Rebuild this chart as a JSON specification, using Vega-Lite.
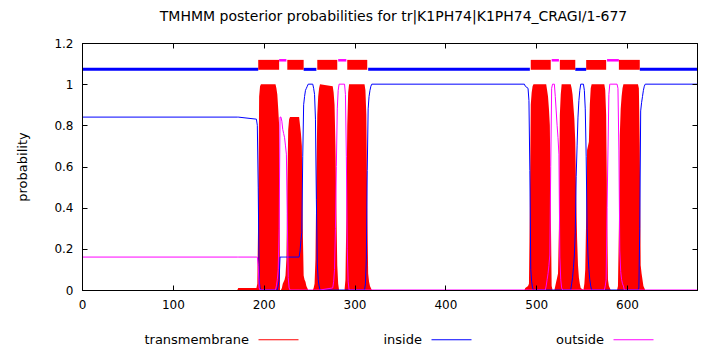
{
  "$schema": "https://vega.github.io/schema/vega-lite/v6.json",
  "width": 615,
  "height": 247,
  "autosize": "none",
  "padding": {"left": 82, "top": 43, "right": 13, "bottom": 60},
  "background": "white",
  "title": {"text": "TMHMM posterior probabilities for tr|K1PH74|K1PH74_CRAGI/1-677", "font": "DejaVu Sans", "fontSize": 14, "fontWeight": "normal", "color": "black", "offset": 13, "anchor": "middle", "dx": 4},
  "config": {"view": {"stroke": "black", "strokeWidth": 1}},
  "datasets": {
    "curve": [
      {"pos":1,"transmembrane":0,"inside":0.84,"outside":0.16},
      {"pos":171,"transmembrane":0,"inside":0.84,"outside":0.16},
      {"pos":172,"transmembrane":0.01,"inside":0.84,"outside":0.16},
      {"pos":192,"transmembrane":0.01,"inside":0.83,"outside":0.16},
      {"pos":193,"transmembrane":0.03,"inside":0.8,"outside":0.16},
      {"pos":194,"transmembrane":0.37,"inside":0.5,"outside":0.12},
      {"pos":195,"transmembrane":0.94,"inside":0.05,"outside":0.01},
      {"pos":196,"transmembrane":0.99,"inside":0.01,"outside":0},
      {"pos":197,"transmembrane":1,"inside":0,"outside":0},
      {"pos":213,"transmembrane":1,"inside":0,"outside":0},
      {"pos":214,"transmembrane":0.98,"inside":0,"outside":0.02},
      {"pos":215,"transmembrane":0.95,"inside":0,"outside":0.05},
      {"pos":216,"transmembrane":0.88,"inside":0.02,"outside":0.1},
      {"pos":217,"transmembrane":0.8,"inside":0.05,"outside":0.3},
      {"pos":218,"transmembrane":0,"inside":0.16,"outside":0.84},
      {"pos":219,"transmembrane":0,"inside":0.16,"outside":0.84},
      {"pos":220,"transmembrane":0.01,"inside":0.16,"outside":0.82},
      {"pos":221,"transmembrane":0.03,"inside":0.16,"outside":0.78},
      {"pos":222,"transmembrane":0.04,"inside":0.16,"outside":0.76},
      {"pos":223,"transmembrane":0.05,"inside":0.16,"outside":0.74},
      {"pos":224,"transmembrane":0.07,"inside":0.16,"outside":0.7},
      {"pos":225,"transmembrane":0.15,"inside":0.16,"outside":0.66},
      {"pos":226,"transmembrane":0.5,"inside":0.16,"outside":0.34},
      {"pos":227,"transmembrane":0.78,"inside":0.16,"outside":0.06},
      {"pos":228,"transmembrane":0.83,"inside":0.16,"outside":0.01},
      {"pos":229,"transmembrane":0.84,"inside":0.16,"outside":0},
      {"pos":239,"transmembrane":0.84,"inside":0.16,"outside":0},
      {"pos":240,"transmembrane":0.8,"inside":0.19,"outside":0},
      {"pos":241,"transmembrane":0.76,"inside":0.24,"outside":0},
      {"pos":242,"transmembrane":0.7,"inside":0.28,"outside":0},
      {"pos":243,"transmembrane":0.3,"inside":0.65,"outside":0},
      {"pos":244,"transmembrane":0.07,"inside":0.9,"outside":0},
      {"pos":245,"transmembrane":0.05,"inside":0.94,"outside":0},
      {"pos":246,"transmembrane":0.04,"inside":0.97,"outside":0},
      {"pos":247,"transmembrane":0.02,"inside":0.98,"outside":0},
      {"pos":248,"transmembrane":0.01,"inside":0.99,"outside":0},
      {"pos":249,"transmembrane":0,"inside":1,"outside":0},
      {"pos":254,"transmembrane":0,"inside":1,"outside":0},
      {"pos":255,"transmembrane":0.01,"inside":0.98,"outside":0},
      {"pos":256,"transmembrane":0.03,"inside":0.95,"outside":0},
      {"pos":257,"transmembrane":0.15,"inside":0.83,"outside":0},
      {"pos":258,"transmembrane":0.55,"inside":0.44,"outside":0},
      {"pos":259,"transmembrane":0.85,"inside":0.13,"outside":0},
      {"pos":260,"transmembrane":0.94,"inside":0.05,"outside":0},
      {"pos":261,"transmembrane":0.98,"inside":0.02,"outside":0},
      {"pos":262,"transmembrane":1,"inside":0,"outside":0},
      {"pos":276,"transmembrane":0.99,"inside":0,"outside":0.01},
      {"pos":277,"transmembrane":0.96,"inside":0,"outside":0.04},
      {"pos":278,"transmembrane":0.9,"inside":0,"outside":0.1},
      {"pos":279,"transmembrane":0.7,"inside":0,"outside":0.3},
      {"pos":280,"transmembrane":0.4,"inside":0,"outside":0.6},
      {"pos":281,"transmembrane":0.12,"inside":0,"outside":0.88},
      {"pos":282,"transmembrane":0.03,"inside":0,"outside":0.97},
      {"pos":283,"transmembrane":0,"inside":0,"outside":1},
      {"pos":289,"transmembrane":0,"inside":0,"outside":1},
      {"pos":290,"transmembrane":0.05,"inside":0,"outside":0.95},
      {"pos":291,"transmembrane":0.35,"inside":0,"outside":0.65},
      {"pos":292,"transmembrane":0.8,"inside":0,"outside":0.2},
      {"pos":293,"transmembrane":0.96,"inside":0,"outside":0.04},
      {"pos":294,"transmembrane":1,"inside":0,"outside":0},
      {"pos":311,"transmembrane":1,"inside":0,"outside":0},
      {"pos":312,"transmembrane":0.97,"inside":0.03,"outside":0},
      {"pos":313,"transmembrane":0.85,"inside":0.15,"outside":0},
      {"pos":314,"transmembrane":0.4,"inside":0.58,"outside":0},
      {"pos":315,"transmembrane":0.08,"inside":0.88,"outside":0},
      {"pos":316,"transmembrane":0.04,"inside":0.94,"outside":0},
      {"pos":317,"transmembrane":0.02,"inside":0.97,"outside":0},
      {"pos":318,"transmembrane":0.01,"inside":0.99,"outside":0},
      {"pos":319,"transmembrane":0,"inside":1,"outside":0},
      {"pos":487,"transmembrane":0,"inside":1,"outside":0},
      {"pos":488,"transmembrane":0.01,"inside":0.99,"outside":0},
      {"pos":491,"transmembrane":0.02,"inside":0.98,"outside":0},
      {"pos":492,"transmembrane":0.03,"inside":0.92,"outside":0},
      {"pos":493,"transmembrane":0.4,"inside":0.58,"outside":0},
      {"pos":494,"transmembrane":0.9,"inside":0.1,"outside":0},
      {"pos":495,"transmembrane":0.96,"inside":0.04,"outside":0},
      {"pos":496,"transmembrane":0.99,"inside":0.01,"outside":0},
      {"pos":497,"transmembrane":1,"inside":0,"outside":0},
      {"pos":510,"transmembrane":1,"inside":0,"outside":0},
      {"pos":511,"transmembrane":1,"inside":0,"outside":0.02},
      {"pos":512,"transmembrane":0.97,"inside":0,"outside":0.05},
      {"pos":513,"transmembrane":0.94,"inside":0,"outside":0.08},
      {"pos":514,"transmembrane":0.88,"inside":0,"outside":0.12},
      {"pos":515,"transmembrane":0.8,"inside":0,"outside":0.17},
      {"pos":516,"transmembrane":0.4,"inside":0,"outside":0.6},
      {"pos":517,"transmembrane":0.02,"inside":0,"outside":0.98},
      {"pos":518,"transmembrane":0,"inside":0,"outside":1},
      {"pos":520,"transmembrane":0,"inside":0,"outside":1},
      {"pos":521,"transmembrane":0.02,"inside":0,"outside":0.94},
      {"pos":522,"transmembrane":0.04,"inside":0,"outside":0.87},
      {"pos":523,"transmembrane":0.06,"inside":0,"outside":0.8},
      {"pos":524,"transmembrane":0.08,"inside":0,"outside":0.74},
      {"pos":525,"transmembrane":0.3,"inside":0,"outside":0.66},
      {"pos":526,"transmembrane":0.85,"inside":0,"outside":0.16},
      {"pos":527,"transmembrane":0.95,"inside":0,"outside":0.05},
      {"pos":528,"transmembrane":1,"inside":0,"outside":0.01},
      {"pos":529,"transmembrane":1,"inside":0,"outside":0},
      {"pos":538,"transmembrane":1,"inside":0,"outside":0},
      {"pos":539,"transmembrane":0.98,"inside":0.03,"outside":0},
      {"pos":540,"transmembrane":0.95,"inside":0.06,"outside":0},
      {"pos":541,"transmembrane":0.89,"inside":0.11,"outside":0},
      {"pos":542,"transmembrane":0.83,"inside":0.17,"outside":0},
      {"pos":543,"transmembrane":0.72,"inside":0.28,"outside":0},
      {"pos":544,"transmembrane":0.45,"inside":0.55,"outside":0},
      {"pos":545,"transmembrane":0.25,"inside":0.7,"outside":0},
      {"pos":546,"transmembrane":0.12,"inside":0.84,"outside":0},
      {"pos":547,"transmembrane":0.06,"inside":0.92,"outside":0},
      {"pos":548,"transmembrane":0.03,"inside":0.97,"outside":0},
      {"pos":549,"transmembrane":0.01,"inside":1,"outside":0},
      {"pos":552,"transmembrane":0,"inside":1,"outside":0},
      {"pos":553,"transmembrane":0.03,"inside":0.97,"outside":0},
      {"pos":554,"transmembrane":0.1,"inside":0.88,"outside":0},
      {"pos":555,"transmembrane":0.35,"inside":0.65,"outside":0},
      {"pos":556,"transmembrane":0.68,"inside":0.3,"outside":0},
      {"pos":557,"transmembrane":0.7,"inside":0.17,"outside":0},
      {"pos":558,"transmembrane":0.72,"inside":0.1,"outside":0},
      {"pos":559,"transmembrane":0.9,"inside":0.05,"outside":0},
      {"pos":560,"transmembrane":0.98,"inside":0.02,"outside":0},
      {"pos":561,"transmembrane":1,"inside":0,"outside":0},
      {"pos":575,"transmembrane":1,"inside":0,"outside":0},
      {"pos":576,"transmembrane":0.97,"inside":0,"outside":0.02},
      {"pos":577,"transmembrane":0.85,"inside":0,"outside":0.05},
      {"pos":578,"transmembrane":0.4,"inside":0,"outside":0.4},
      {"pos":579,"transmembrane":0.05,"inside":0,"outside":0.68},
      {"pos":580,"transmembrane":0.02,"inside":0,"outside":0.95},
      {"pos":581,"transmembrane":0.01,"inside":0,"outside":1},
      {"pos":582,"transmembrane":0,"inside":0,"outside":1},
      {"pos":589,"transmembrane":0,"inside":0,"outside":1},
      {"pos":590,"transmembrane":0.02,"inside":0,"outside":0.98},
      {"pos":591,"transmembrane":0.3,"inside":0,"outside":0.68},
      {"pos":592,"transmembrane":0.75,"inside":0,"outside":0.19},
      {"pos":593,"transmembrane":0.88,"inside":0,"outside":0.09},
      {"pos":594,"transmembrane":0.94,"inside":0,"outside":0.05},
      {"pos":595,"transmembrane":0.98,"inside":0,"outside":0.03},
      {"pos":596,"transmembrane":1,"inside":0,"outside":0.02},
      {"pos":597,"transmembrane":1,"inside":0,"outside":0},
      {"pos":612,"transmembrane":1,"inside":0,"outside":0},
      {"pos":613,"transmembrane":0.98,"inside":0.01,"outside":0},
      {"pos":614,"transmembrane":0.7,"inside":0.3,"outside":0},
      {"pos":615,"transmembrane":0.12,"inside":0.87,"outside":0},
      {"pos":616,"transmembrane":0.08,"inside":0.91,"outside":0},
      {"pos":617,"transmembrane":0.05,"inside":0.94,"outside":0},
      {"pos":618,"transmembrane":0.02,"inside":0.97,"outside":0},
      {"pos":619,"transmembrane":0.01,"inside":0.99,"outside":0},
      {"pos":620,"transmembrane":0,"inside":1,"outside":0},
      {"pos":677,"transmembrane":0,"inside":1,"outside":0}
    ],
    "topo": [
      {"type":"inside","start":1,"end":194},
      {"type":"transmembrane","start":194,"end":217},
      {"type":"outside","start":217,"end":225},
      {"type":"transmembrane","start":226,"end":244},
      {"type":"inside","start":244,"end":258},
      {"type":"transmembrane","start":259,"end":281},
      {"type":"outside","start":282,"end":291},
      {"type":"transmembrane","start":292,"end":314},
      {"type":"inside","start":315,"end":493},
      {"type":"transmembrane","start":494,"end":516},
      {"type":"outside","start":517,"end":525},
      {"type":"transmembrane","start":526,"end":543},
      {"type":"inside","start":543,"end":555},
      {"type":"transmembrane","start":555,"end":577},
      {"type":"outside","start":578,"end":591},
      {"type":"transmembrane","start":591,"end":614},
      {"type":"inside","start":614,"end":677}
    ]
  },
  "layer": [
    {
      "data": {"name": "curve"},
      "mark": {"type": "area", "color": "#ff0000", "interpolate": "linear"},
      "encoding": {
        "x": {"field": "pos", "type": "quantitative", "scale": {"domain": [0, 677], "nice": false, "zero": false},
          "axis": {"orient": "bottom", "values": [0,100,200,300,400,500,600], "format": "d", "title": null, "grid": false, "tickSize": -5, "labelPadding": 14, "labelFont": "DejaVu Sans", "labelFontSize": 12, "labelColor": "black", "domainColor": "black", "tickColor": "black", "labelFlush": false, "labelOverlap": false, "zindex": 1}},
        "y": {"field": "transmembrane", "type": "quantitative", "scale": {"domain": [0, 1.2], "nice": false},
          "axis": {"orient": "left", "values": [0,0.2,0.4,0.6,0.8,1,1.2], "format": "~g", "title": "probability", "titleFont": "DejaVu Sans", "titleFontSize": 13, "titleFontWeight": "normal", "titleColor": "black", "titlePadding": 24, "grid": false, "tickSize": -5, "labelPadding": 14, "labelFont": "DejaVu Sans", "labelFontSize": 12, "labelColor": "black", "domainColor": "black", "tickColor": "black", "labelFlush": false, "labelOverlap": false, "zindex": 1}}
      }
    },
    {
      "data": {"name": "curve"},
      "transform": [{"fold": ["inside", "outside"], "as": ["series", "p"]}],
      "mark": {"type": "line", "strokeWidth": 1, "interpolate": "linear"},
      "encoding": {
        "x": {"field": "pos", "type": "quantitative",
          "axis": {"orient": "top", "values": [0,100,200,300,400,500,600], "labels": false, "title": null, "grid": false, "tickSize": -5, "domainColor": "black", "tickColor": "black", "zindex": 1}},
        "y": {"field": "p", "type": "quantitative",
          "axis": {"orient": "right", "values": [0,0.2,0.4,0.6,0.8,1,1.2], "labels": false, "title": null, "grid": false, "tickSize": -5, "domainColor": "black", "tickColor": "black", "zindex": 1}},
        "color": {"field": "series", "type": "nominal",
          "scale": {"domain": ["transmembrane", "inside", "outside"], "range": ["#ff0000", "#0000ff", "#ff00ff"]},
          "legend": {"orient": "none", "legendX": 176, "legendY": 276, "direction": "horizontal", "title": null, "symbolType": "stroke", "symbolSize": 1600, "symbolStrokeWidth": 1, "labelAlign": "right", "labelOffset": -50, "labelFont": "DejaVu Sans", "labelFontSize": 13, "labelColor": "black", "columnPadding": 82, "padding": 0}}
      }
    },
    {
      "data": {"name": "topo"},
      "transform": [{"filter": "datum.type === 'inside'"}],
      "mark": {"type": "rule", "color": "#0000ff", "strokeWidth": 3, "strokeCap": "butt"},
      "encoding": {
        "x": {"field": "start", "type": "quantitative", "axis": null},
        "x2": {"field": "end"},
        "y": {"datum": 1.072, "type": "quantitative", "axis": null}
      }
    },
    {
      "data": {"name": "topo"},
      "transform": [{"filter": "datum.type === 'outside'"}],
      "mark": {"type": "rule", "color": "#ff00ff", "strokeWidth": 2.5, "strokeCap": "butt"},
      "encoding": {
        "x": {"field": "start", "type": "quantitative", "axis": null},
        "x2": {"field": "end"},
        "y": {"datum": 1.116, "type": "quantitative", "axis": null}
      }
    },
    {
      "data": {"name": "topo"},
      "transform": [{"filter": "datum.type === 'transmembrane'"}],
      "mark": {"type": "rect", "color": "#ff0000"},
      "encoding": {
        "x": {"field": "start", "type": "quantitative", "axis": null},
        "x2": {"field": "end"},
        "y": {"datum": 1.07, "type": "quantitative", "axis": null},
        "y2": {"datum": 1.118}
      }
    }
  ],
  "resolve": {"axis": {"x": "independent", "y": "independent"}}
}
